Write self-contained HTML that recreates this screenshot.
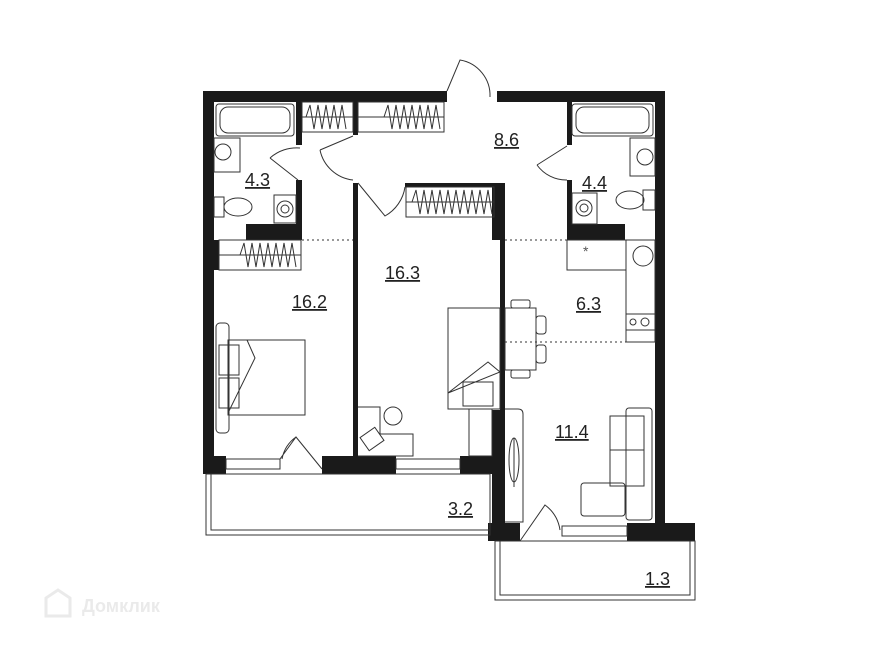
<!DOCTYPE html>
<html><head><meta charset="utf-8"><style>
html,body{margin:0;padding:0;background:#fff;width:896px;height:650px;overflow:hidden}
svg{display:block}
text{font-family:"Liberation Sans",sans-serif;font-size:18px;fill:#222}
</style></head><body>
<svg width="896" height="650" viewBox="0 0 896 650" xmlns="http://www.w3.org/2000/svg">
<g fill="#1a1a1a">
<rect x="203" y="91" width="244" height="11"/>
<rect x="497" y="91" width="168" height="11"/>
<rect x="203" y="91" width="11" height="383"/>
<rect x="655" y="91" width="10" height="432"/>
<rect x="203" y="456" width="23" height="18"/>
<rect x="322" y="456" width="74" height="18"/>
<rect x="460" y="456" width="33" height="18"/>
<rect x="492" y="410" width="13" height="113"/>
<rect x="488" y="523" width="32" height="18"/>
<rect x="627" y="523" width="68" height="18"/>
<rect x="353" y="183" width="5" height="273"/>
<rect x="405" y="183" width="100" height="4"/>
<rect x="492" y="183" width="13" height="57"/>
<rect x="500" y="183" width="5" height="227"/>
<rect x="296" y="102" width="6" height="43"/>
<rect x="296" y="180" width="6" height="60"/>
<rect x="246" y="224" width="56" height="16"/>
<rect x="353" y="102" width="5" height="33"/>
<rect x="567" y="102" width="5" height="43"/>
<rect x="567" y="180" width="5" height="60"/>
<rect x="567" y="224" width="58" height="16"/>
<rect x="214" y="240" width="5" height="30"/>
</g>
<g fill="none" stroke="#333" stroke-width="1">
<rect x="206" y="474" width="284" height="61"/>
<rect x="211" y="474" width="279" height="56"/>
<rect x="495" y="541" width="200" height="59"/>
<rect x="500" y="541" width="190" height="54"/>
<rect x="226" y="459" width="54" height="10"/>
<rect x="396" y="459" width="64" height="10"/>
<rect x="562" y="526" width="65" height="10"/>
<line x1="302" y1="240" x2="353" y2="240" stroke-dasharray="2,3"/>
<line x1="505" y1="240" x2="567" y2="240" stroke-dasharray="2,3"/>
<line x1="505" y1="342" x2="655" y2="342" stroke-dasharray="2,3"/>
<rect x="216" y="104" width="78" height="32" rx="3"/>
<rect x="220" y="107" width="70" height="26" rx="8"/>
<rect x="572" y="104" width="81" height="32" rx="3"/>
<rect x="576" y="107" width="73" height="26" rx="8"/>
<rect x="214" y="138" width="26" height="34"/><circle cx="223" cy="152" r="8"/>
<rect x="630" y="138" width="25" height="38"/><circle cx="645" cy="157" r="8"/>
<rect x="214" y="197" width="10" height="20"/><ellipse cx="238" cy="207" rx="14" ry="9"/>
<rect x="643" y="190" width="12" height="20"/><ellipse cx="630" cy="200" rx="14" ry="9"/>
<rect x="274" y="195" width="22" height="28"/><circle cx="285" cy="209" r="8"/><circle cx="285" cy="209" r="4"/>
<rect x="572" y="193" width="25" height="31"/><circle cx="584" cy="208" r="8"/><circle cx="584" cy="208" r="4"/>
<rect x="302" y="102" width="51" height="30"/>
<rect x="358" y="102" width="86" height="30"/>
<rect x="406" y="187" width="88" height="30"/>
<rect x="219" y="240" width="82" height="30"/>
<line x1="302" y1="117" x2="353" y2="117"/><line x1="358" y1="117" x2="444" y2="117"/>
<line x1="406" y1="202" x2="494" y2="202"/><line x1="219" y1="255" x2="301" y2="255"/>
<path d="M306 117 l4 -12 l4 24 l4 -24 l4 24 l4 -24 l4 24 l4 -24 l4 24 l4 -24 l4 24 M384 117 l4 -12 l4 24 l4 -24 l4 24 l4 -24 l4 24 l4 -24 l4 24 l4 -24 l4 24 l4 -24 l4 24 l4 -24 l4 24 M412 202 l4 -12 l4 24 l4 -24 l4 24 l4 -24 l4 24 l4 -24 l4 24 l4 -24 l4 24 l4 -24 l4 24 l4 -24 l4 24 l4 -24 l4 24 l4 -24 l4 24 l4 -24 l4 24 M240 255 l4 -12 l4 24 l4 -24 l4 24 l4 -24 l4 24 l4 -24 l4 24 l4 -24 l4 24 l4 -24 l4 24 l4 -24 l4 24"/>
<path d="M447 91 L460 60 A36 36 0 0 1 490 97"/>
<path d="M270 158 A40 40 0 0 1 300 148 M270 158 L298 180"/>
<path d="M320 150 L353 136 M320 150 A38 38 0 0 0 353 180"/>
<path d="M358 183 L385 216 A40 40 0 0 0 405 187"/>
<path d="M537 165 L567 146 M537 165 A36 36 0 0 0 567 180"/>
<path d="M280 459 L296 437 L322 469 M282 459 A35 35 0 0 1 296 437"/>
<path d="M520 541 L545 505 A38 38 0 0 1 560 530"/>
<rect x="567" y="240" width="59" height="30"/>
<rect x="626" y="240" width="29" height="102"/>
<circle cx="643" cy="256" r="10"/>
<rect x="626" y="314" width="29" height="16"/><circle cx="633" cy="322" r="3"/><circle cx="645" cy="322" r="4"/>
<rect x="505" y="308" width="31" height="62"/>
<rect x="511" y="300" width="19" height="8" rx="2"/>
<rect x="511" y="370" width="19" height="8" rx="2"/>
<rect x="536" y="316" width="10" height="18" rx="3"/>
<rect x="536" y="345" width="10" height="18" rx="3"/>
<rect x="448" y="308" width="52" height="101"/>
<rect x="463" y="382" width="30" height="24"/>
<path d="M448 393 L488 362 L500 372 Z"/>
<rect x="469" y="409" width="23" height="47"/>
<path d="M358 407 L380 407 L380 434 L413 434 L413 456 L358 456"/>
<circle cx="393" cy="416" r="9"/>
<rect x="363" y="431" width="18" height="16" transform="rotate(-35 372 439)"/>
<rect x="228" y="340" width="77" height="75"/>
<rect x="216" y="323" width="13" height="110" rx="4"/>
<rect x="219" y="345" width="20" height="30"/><rect x="219" y="378" width="20" height="30"/>
<path d="M228 413 L255 358 L247 340"/>
<path d="M505 409 L518 409 Q523 409 523 414 L523 522 L505 522"/>
<ellipse cx="514" cy="460" rx="5" ry="22"/>
<line x1="514" y1="438" x2="514" y2="487"/>
<rect x="626" y="408" width="26" height="112" rx="3"/>
<rect x="610" y="416" width="34" height="34"/>
<rect x="610" y="450" width="34" height="36"/>
<rect x="581" y="483" width="44" height="33" rx="3"/>
</g>
<text x="583" y="256" style="font-size:14px;fill:#555">*</text>
<g>
<text x="245" y="186" text-decoration="underline">4.3</text>
<text x="494" y="146" text-decoration="underline">8.6</text>
<text x="582" y="189" text-decoration="underline">4.4</text>
<text x="385" y="279" text-decoration="underline">16.3</text>
<text x="292" y="308" text-decoration="underline">16.2</text>
<text x="576" y="310" text-decoration="underline">6.3</text>
<text x="555" y="438" text-decoration="underline">11.4</text>
<text x="448" y="515" text-decoration="underline">3.2</text>
<text x="645" y="585" text-decoration="underline">1.3</text>
</g>
<g opacity="0.2">
<path d="M46 616 L46 598 L58 590 L70 598 L70 616 Z" fill="none" stroke="#999" stroke-width="3"/>
<text x="82" y="612" style="font-size:18px;fill:#999;font-weight:bold">Домклик</text>
</g>
</svg>
</body></html>
